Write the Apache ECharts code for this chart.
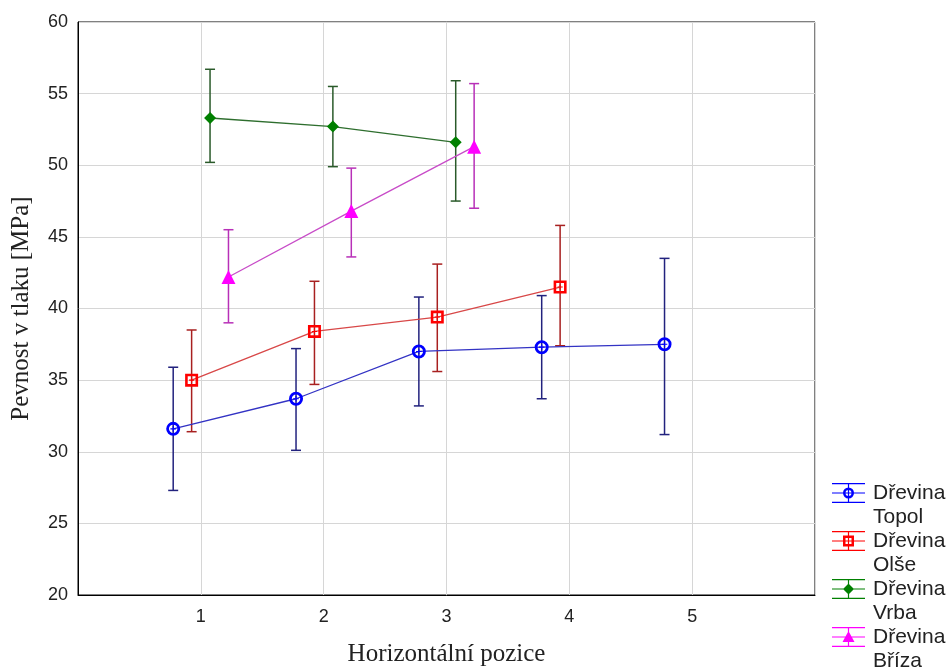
<!DOCTYPE html>
<html>
<head>
<meta charset="utf-8">
<script src="https://cdn.jsdelivr.net/npm/echarts@6/dist/echarts.min.js"></script>
<style>html,body{margin:0;padding:0;background:#fff}#c{width:952px;height:672px}</style>
</head>
<body>
<div id="c"></div>
<script>
// ---- data ----
const positions = [1, 2, 3, 4, 5];
const xTickLabels = ['1', '2', '3', '4', '5'];
const seriesNames = ['Dřevina\nTopol', 'Dřevina\nOlše', 'Dřevina\nVrba', 'Dřevina\nBříza'];

const topolMean = [31.6, 33.7, 37.0, 37.3, 37.5];
const topolLow  = [27.3, 30.1, 33.2, 33.7, 31.2];
const topolHigh = [35.9, 37.2, 40.8, 40.9, 43.5];

const olseMean = [35.0, 38.4, 39.4, 41.5];
const olseLow  = [31.4, 34.7, 35.6, 37.4];
const olseHigh = [38.5, 41.9, 43.1, 45.8];

const vrbaMean = [53.3, 52.7, 51.6];
const vrbaLow  = [50.2, 49.9, 47.5];
const vrbaHigh = [56.7, 55.5, 55.9];

const brizaMean = [42.2, 46.8, 51.3];
const brizaLow  = [39.0, 43.6, 47.0];
const brizaHigh = [45.5, 49.8, 55.7];

// ---- styling ----
const dodge = [-0.225, -0.075, 0.075, 0.225];
const markerColors = ['#0000ff', '#ff0000', '#008000', '#ff00ff'];
const lineColors = ['#3333c4', '#d84848', '#2e6e2e', '#c84cc8'];
const errColors = ['#22227e', '#a82020', '#2a5a2a', '#b830b8'];

const symTopol = 'path://M0 10A10 10 0 1 1 20 10A10 10 0 1 1 0 10ZM4 10A6 6 0 1 0 16 10A6 6 0 1 0 4 10ZM6 9.2H14V10.8H6ZM9.2 6H10.8V14H9.2Z';
const symOlse = 'path://M0 0H20V20H0ZM4 4V16H16V4ZM6 9.2H14V10.8H6ZM9.2 6H10.8V14H9.2Z';
const symbols = [symTopol, symOlse, 'diamond', 'triangle'];
const symbolSizes = [14, 13, 12, 14];

// legend icons: bbox 33x48, glyph in top part
const lb = 'M0 0H0.05V0.05H0ZM0 47.95H0.05V48H0Z';
const caps = 'M0 2H33V3.2H0ZM0 11.4H33V12.6H0ZM0 20.8H33V22H0ZM15.9 2H17.1V22H15.9Z';
const legendIcons = [
  'path://' + lb + caps + 'M11 12A5.5 5.5 0 1 1 22 12A5.5 5.5 0 1 1 11 12ZM13.5 12A3 3 0 1 0 19.5 12A3 3 0 1 0 13.5 12Z',
  'path://' + lb + caps + 'M11 6.5H22V17.5H11ZM13.5 9V15H19.5V9Z',
  'path://' + lb + caps + 'M16.5 6.5L22 12L16.5 17.5L11 12Z',
  'path://' + lb + caps + 'M16.5 6L22.5 17H10.5Z'
];

const groups = [
  [topolMean, topolLow, topolHigh],
  [olseMean, olseLow, olseHigh],
  [vrbaMean, vrbaLow, vrbaHigh],
  [brizaMean, brizaLow, brizaHigh]
];

const series = [];
groups.forEach(function (g, k) {
  const mean = g[0], low = g[1], high = g[2];
  const errData = mean.map(function (v, i) { return [positions[i] + dodge[k], low[i], high[i]]; });
  series.push({
    type: 'custom',
    name: 'err' + k,
    z: 1,
    silent: true,
    data: errData,
    encode: { x: 0, y: [1, 2] },
    renderItem: function (params, api) {
      const x = api.value(0);
      const top = api.coord([x, api.value(2)]);
      const bot = api.coord([x, api.value(1)]);
      const w = 5;
      const st = { stroke: errColors[k], lineWidth: 1.5, fill: null };
      return {
        type: 'group',
        children: [
          { type: 'line', shape: { x1: top[0], y1: top[1], x2: bot[0], y2: bot[1] }, style: st },
          { type: 'line', shape: { x1: top[0] - w, y1: top[1], x2: top[0] + w, y2: top[1] }, style: st },
          { type: 'line', shape: { x1: bot[0] - w, y1: bot[1], x2: bot[0] + w, y2: bot[1] }, style: st }
        ]
      };
    }
  });
  series.push({
    type: 'line',
    name: seriesNames[k],
    z: 3,
    data: mean.map(function (v, i) { return [positions[i] + dodge[k], v]; }),
    symbol: symbols[k],
    symbolSize: symbolSizes[k],
    lineStyle: { color: lineColors[k], width: 1.3 },
    itemStyle: { color: markerColors[k] },
    emphasis: { disabled: true }
  });
});

const chart = echarts.init(document.getElementById('c'), null, { renderer: 'canvas' });
chart.setOption({
  animation: false,
  backgroundColor: '#ffffff',
  grid: { left: 78, right: 137, top: 22, bottom: 75, show: true, borderColor: '#000', borderWidth: 1, backgroundColor: 'transparent' },
  xAxis: {
    type: 'value', min: 0, max: 6, interval: 1,
    name: 'Horizontální pozice', nameLocation: 'middle', nameGap: 47,
    nameTextStyle: { fontFamily: 'Liberation Serif', fontSize: 25, color: '#222' },
    axisLine: { show: true, lineStyle: { color: '#000' } },
    axisTick: { show: false },
    axisLabel: {
      margin: 13, fontFamily: 'Liberation Sans', fontSize: 18, color: '#222',
      formatter: function (v) { const i = positions.indexOf(v); return i >= 0 ? xTickLabels[i] : ''; }
    },
    splitLine: { show: true, lineStyle: { color: '#d6d6d6' } }
  },
  yAxis: {
    type: 'value', min: 20, max: 60, interval: 5,
    name: 'Pevnost v tlaku [MPa]', nameLocation: 'middle', nameGap: 44,
    nameTextStyle: { fontFamily: 'Liberation Serif', fontSize: 25, color: '#222' },
    axisLine: { show: true, lineStyle: { color: '#000' } },
    axisTick: { show: false },
    axisLabel: { margin: 10, fontFamily: 'Liberation Sans', fontSize: 18, color: '#222' },
    splitLine: { show: true, lineStyle: { color: '#d6d6d6' } }
  },
  legend: {
    orient: 'vertical', left: 832, top: 481, padding: 0,
    height: 194,
    itemWidth: 33, itemHeight: 48, itemGap: 0,
    selectedMode: false,
    textStyle: { fontFamily: 'Liberation Sans', fontSize: 21, lineHeight: 24, color: '#222', padding: [0, 0, 0, 3] },
    data: seriesNames.map(function (n, k) {
      return { name: n, icon: legendIcons[k], itemStyle: { color: markerColors[k], borderWidth: 0 } };
    })
  },
  series: series
});
</script>
</body>
</html>
